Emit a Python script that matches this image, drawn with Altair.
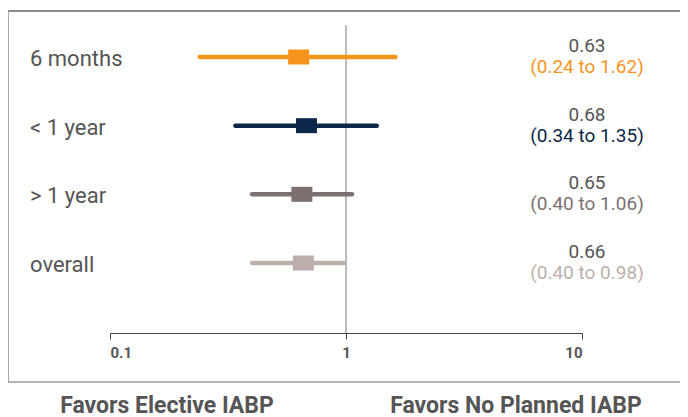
import altair as alt
import pandas as pd

labels = ["6 months", "< 1 year", "> 1 year", "overall"]
estimates = [0.63, 0.68, 0.65, 0.66]
ci_low = [0.24, 0.34, 0.40, 0.40]
ci_high = [1.62, 1.35, 1.06, 0.98]
colors = ["#F7941D", "#0C2749", "#7C7170", "#BCAFAB"]
tick_values = [0.1, 1, 10]
left_note = "Favors Elective IABP"
right_note = "Favors No Planned IABP"

df = pd.DataFrame({
    "label": labels,
    "est": estimates,
    "lo": ci_low,
    "hi": ci_high,
    "est_text": [f"{v:.2f}" for v in estimates],
    "ci_text": [f"({a:.2f} to {b:.2f})" for a, b in zip(ci_low, ci_high)],
})

FONT = "Roboto"
W, H = 672, 371
xscale = alt.Scale(type="log", domain=[0.1, 10], range=[102, 574])
yscale = alt.Scale(type="point", domain=labels, range=[46, 252], padding=0)
cscale = alt.Scale(domain=labels, range=colors)

base = alt.Chart(df)

xaxis = alt.Axis(values=tick_values, format="~g", grid=False, title=None,
                 domainColor="#444444", tickColor="#444444", tickSize=6,
                 labelFont=FONT, labelFontWeight="bold", labelFontSize=15,
                 labelColor="#555555", labelPadding=6, offset=-49)

ref = alt.Chart(pd.DataFrame({"x": [1]})).mark_rule(color="#7a7a7a", strokeWidth=1).encode(
    x=alt.X("x:Q", scale=xscale, axis=xaxis),
    y=alt.value(14), y2=alt.value(322))

# frame (top, left, bottom; right edge runs off the page)
one = alt.Chart(pd.DataFrame({"k": [0]}))
frame_top = one.mark_rule(color="#666666", strokeWidth=1.5).encode(
    x=alt.value(0), x2=alt.value(W), y=alt.value(0))
frame_left = one.mark_rule(color="#aaaaaa", strokeWidth=2).encode(
    x=alt.value(0), y=alt.value(0), y2=alt.value(H))
frame_bottom = one.mark_rule(color="#999999", strokeWidth=1.5).encode(
    x=alt.value(0), x2=alt.value(W), y=alt.value(H))

ci = base.mark_rule(strokeWidth=4.5, strokeCap="round").encode(
    x=alt.X("lo:Q", scale=xscale), x2="hi:Q",
    y=alt.Y("label:N", scale=yscale, axis=None),
    color=alt.Color("label:N", scale=cscale, legend=None))

box = base.mark_tick(thickness=21, size=15, opacity=1).encode(
    x=alt.X("est:Q", scale=xscale),
    y=alt.Y("label:N", scale=yscale, axis=None),
    color=alt.Color("label:N", scale=cscale, legend=None))

lab = base.mark_text(align="left", baseline="middle", font=FONT, fontSize=22,
                     color="#555555", dy=2).encode(
    x=alt.value(22), y=alt.Y("label:N", scale=yscale, axis=None), text="label:N")

val = base.mark_text(align="center", baseline="middle", font=FONT, fontSize=19,
                     color="#555555", dy=-11).encode(
    x=alt.value(579), y=alt.Y("label:N", scale=yscale, axis=None), text="est_text:N")

cit = base.mark_text(align="center", baseline="middle", font=FONT, fontSize=19,
                     dy=10).encode(
    x=alt.value(579), y=alt.Y("label:N", scale=yscale, axis=None), text="ci_text:N",
    color=alt.Color("label:N", scale=cscale, legend=None))

notes = alt.Chart(pd.DataFrame({"t": [left_note, right_note], "px": [159, 508]})).mark_text(
    align="center", baseline="alphabetic", font=FONT, fontSize=23, fontWeight="bold",
    color="#555555").encode(x=alt.X("px:Q", scale=None), y=alt.value(402), text="t:N")

chart = alt.layer(frame_top, frame_left, frame_bottom, ref, ci, box, lab, val, cit, notes).properties(
    width=W, height=H, autosize="none",
    padding={"left": 0, "top": 3, "right": 0, "bottom": 35},
).configure_view(stroke=None)

chart.save("out.html", embed_options={"renderer": "svg", "actions": False})
